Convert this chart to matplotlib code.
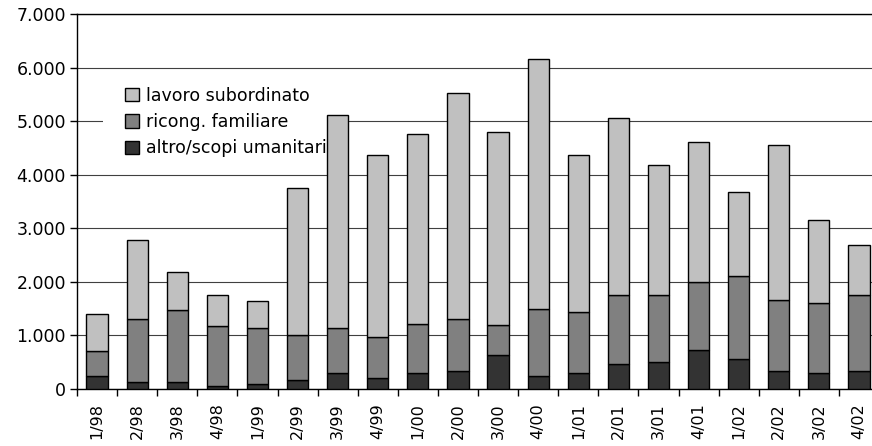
import numpy as np
import matplotlib.pyplot as plt
from matplotlib.patches import Rectangle
from matplotlib.ticker import FuncFormatter, FixedLocator

# quarters
trimestri = ['1/98', '2/98', '3/98', '4/98', '1/99', '2/99', '3/99', '4/99',
             '1/00', '2/00', '3/00', '4/00', '1/01', '2/01', '3/01', '4/01',
             '1/02', '2/02', '3/02', '4/02']

# values per series
altro = [235, 130, 130, 62, 100, 174, 299, 199, 299, 330,
         635, 236, 299, 467, 498, 734, 566, 330, 299, 330]
ricong = [468, 1177, 1345, 1108, 1039, 828, 840, 772, 908, 977,
          566, 1264, 1138, 1282, 1251, 1270, 1544, 1338, 1306, 1419]
lavoro = [703, 1481, 703, 579, 504, 2744, 3982, 3391, 3553, 4225,
          3591, 4661, 2925, 3310, 2439, 2613, 1574, 2887, 1544, 933]

etichette = ['lavoro subordinato', 'ricong. familiare',
             'altro/scopi umanitari']
colori = ['#c0c0c0', '#808080', '#333333']

fs = 12.5
fig = plt.figure(figsize=(8.72, 4.46), dpi=100)
ax = fig.add_axes([77 / 872, 1 - 389 / 446, 802 / 872, 375 / 446])

x = np.arange(len(trimestri))
width = 0.53
b1 = ax.bar(x, altro, width, color=colori[2], edgecolor='black',
            linewidth=1.0, zorder=3)
b2 = ax.bar(x, ricong, width, bottom=altro, color=colori[1],
            edgecolor='black', linewidth=1.0, zorder=3)
bottom2 = np.array(altro) + np.array(ricong)
b3 = ax.bar(x, lavoro, width, bottom=bottom2, color=colori[0],
            edgecolor='black', linewidth=1.0, zorder=3)

ax.set_xlim(-0.5, len(trimestri) - 0.5)
ax.set_ylim(0, 7000)
ax.set_yticks(np.arange(0, 7001, 1000))
ax.yaxis.set_major_formatter(
    FuncFormatter(lambda v, p: '{:,.0f}'.format(v).replace(',', '.')))
ax.yaxis.grid(True, color='#404040', linewidth=0.8, zorder=0)
ax.set_axisbelow(True)

# ticks between categories, labels centred
ax.set_xticks(x)
ax.set_xticklabels(trimestri, rotation=90)
ax.xaxis.set_minor_locator(FixedLocator(np.arange(-0.5, len(trimestri), 1)))
ax.tick_params(axis='x', which='major', length=0, pad=10, labelsize=11.5)
ax.tick_params(axis='x', which='minor', length=5, width=1.0,
               direction='out', color='black')
ax.tick_params(axis='y', length=5, width=1.0, pad=3, labelsize=fs)

for s in ['left', 'bottom', 'top']:
    ax.spines[s].set_color('black')
    ax.spines[s].set_linewidth(1.0)
ax.spines['right'].set_visible(False)

# white area behind the legend (legend sits under the bars)
ax.add_patch(Rectangle((0.032, 0.61), 0.283, 0.214, transform=ax.transAxes,
                       facecolor='white', edgecolor='none', zorder=1.5))

leg = ax.legend([b3, b2, b1], etichette, loc='upper left',
                bbox_to_anchor=(0.053, 0.82), borderaxespad=0,
                frameon=True, fancybox=False, framealpha=1,
                edgecolor='white', facecolor='white', fontsize=fs,
                handlelength=0.8, handleheight=0.8, handletextpad=0.45,
                labelspacing=0.48, borderpad=0.3)
leg.set_zorder(2)

fig.savefig('out.png', dpi=100)
